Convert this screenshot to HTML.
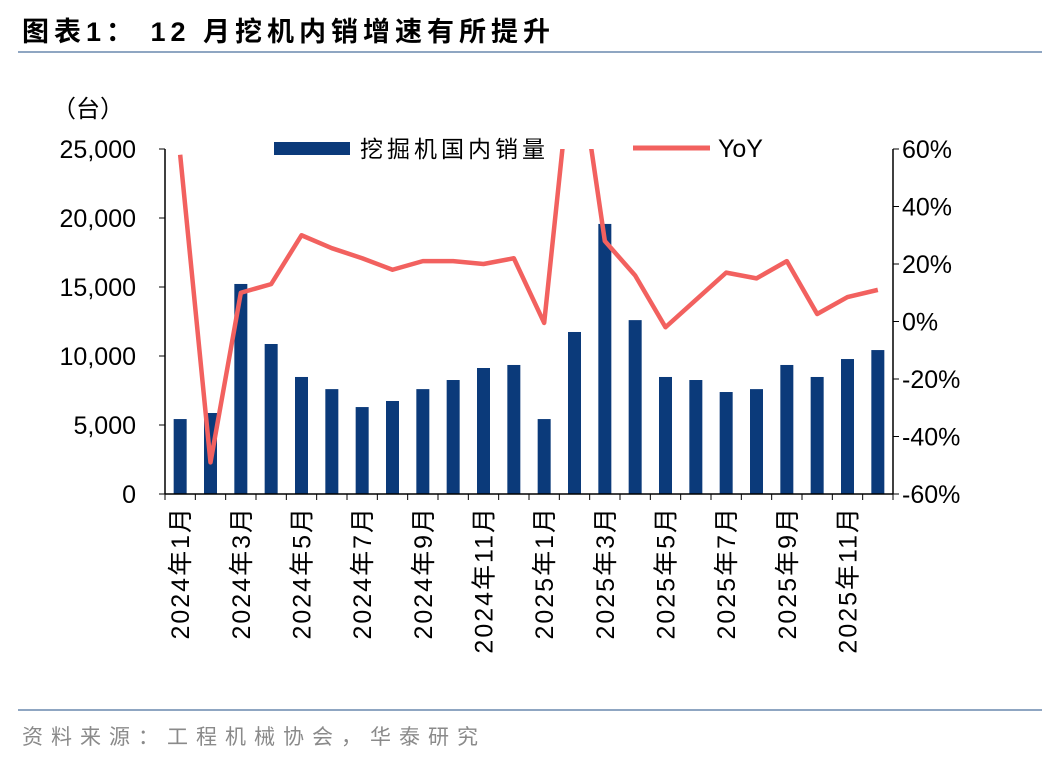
<!DOCTYPE html>
<html><head><meta charset="utf-8"><style>
body{margin:0;background:#fff;width:1048px;height:760px;overflow:hidden;font-family:"Liberation Sans","Noto Sans CJK SC",sans-serif}
svg text{font-family:"Liberation Sans","Noto Sans CJK SC",sans-serif}
</style></head><body>
<svg id="c" width="1048" height="760">
<text x="22" y="41" font-size="27" font-weight="bold" letter-spacing="5" fill="#000">图表1：  12 月挖机内销增速有所提升</text>
<line x1="18" y1="52" x2="1042" y2="52" stroke="#8fa6c2" stroke-width="2"/>
<line x1="18" y1="710" x2="1042" y2="710" stroke="#8fa6c2" stroke-width="2"/>
<text x="22" y="744" font-size="21" letter-spacing="8" fill="#8a8a8a">资料来源：工程机械协会，华泰研究</text>
<text x="52" y="117" font-size="24">（台）</text>
<defs><clipPath id="pc"><rect x="165" y="149" width="728" height="345"/></clipPath></defs>
<g id="bars"></g><g id="ax"></g>
<rect x="274" y="142" width="76" height="13" fill="#0b3a7a"/>
<text x="360" y="157" font-size="23" letter-spacing="4">挖掘机国内销量</text>
<line x1="633" y1="148" x2="710" y2="148" stroke="#f2615f" stroke-width="5"/>
<text x="718" y="157" font-size="25">YoY</text>
</svg>
<script>
const categories=["2024年1月","2024年2月","2024年3月","2024年4月","2024年5月","2024年6月","2024年7月","2024年8月","2024年9月","2024年10月","2024年11月","2024年12月","2025年1月","2025年2月","2025年3月","2025年4月","2025年5月","2025年6月","2025年7月","2025年8月","2025年9月","2025年10月","2025年11月","2025年12月"];
const sales=[5430,5870,15220,10870,8480,7600,6300,6740,7600,8260,9130,9350,5430,11740,19570,12600,8480,8260,7390,7600,9350,8480,9780,10430];
const yoy=[58,-49,10,13,30,25.5,22,18,21,21,20,22,-0.5,100,28,16,-2,7.5,17,15,21,2.6,8.5,11];
const leftTicks=[0,5000,10000,15000,20000,25000];
const rightTicks=[-60,-40,-20,0,20,40,60];
const X0=165,X1=893,Y0=494,Y1=149;
const bw=(X1-X0)/categories.length;
const xs=i=>X0+bw*(i+0.5);
const yL=v=>Y0-(v/25000)*(Y0-Y1);
const yR=v=>Y0-((v+60)/120)*(Y0-Y1);
const NS="http://www.w3.org/2000/svg";
const svg=document.getElementById('c'),bars=document.getElementById('bars'),ax=document.getElementById('ax');
function mk(t,a,p){const e=document.createElementNS(NS,t);for(const k in a)e.setAttribute(k,a[k]);(p||svg).appendChild(e);return e;}
sales.forEach((v,i)=>{const r=mk('rect',{x:xs(i)-6.5,y:yL(v),width:13,height:Y0-yL(v),fill:'#0b3a7a'},bars);

});
const pl=mk('polyline',{points:yoy.map((v,i)=>xs(i)+','+yR(v)).join(' '),fill:'none',stroke:'#f2615f','stroke-width':4.5,'stroke-linejoin':'round','clip-path':'url(#pc)'});


const la=mk('line',{x1:X0,y1:Y1,x2:X0,y2:Y0,stroke:'#000','stroke-width':1.5},ax);


const ra=mk('line',{x1:X1,y1:Y1,x2:X1,y2:Y0,stroke:'#000','stroke-width':1.5},ax);


const xa=mk('line',{x1:X0,y1:Y0,x2:X1,y2:Y0,stroke:'#000','stroke-width':1.5},ax);


leftTicks.forEach(v=>{mk('line',{x1:X0-6,y1:yL(v),x2:X0,y2:yL(v),stroke:'#000'},ax);
const t=mk('text',{x:X0-29,y:yL(v)+9,'font-size':25,'text-anchor':'end'},ax);t.textContent=v.toLocaleString('en-US');

});
rightTicks.forEach(v=>{mk('line',{x1:X1,y1:yR(v),x2:X1+6,y2:yR(v),stroke:'#000'},ax);
const t=mk('text',{x:X1+9,y:yR(v)+9,'font-size':25},ax);t.textContent=v+'%';

});
for(let i=0;i<=categories.length;i++)mk('line',{x1:X0+bw*i,y1:Y0,x2:X0+bw*i,y2:Y0+6,stroke:'#000'},ax);
categories.forEach((c,i)=>{if(i%2)return;const x=xs(i)+9,y=Y0+12;
const t=mk('text',{x:x,y:y,'font-size':25,'letter-spacing':2,'text-anchor':'end',transform:`rotate(-90 ${x} ${y})`},ax);t.textContent=c;

});
</script>
</body></html>
